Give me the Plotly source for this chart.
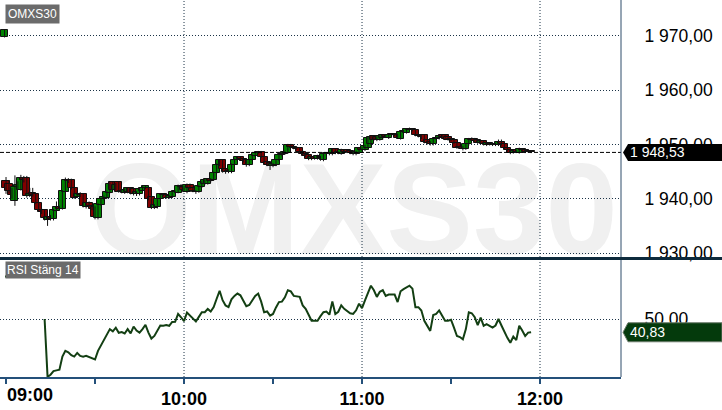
import pandas as pd
import plotly.graph_objects as go

# ---------------- data ----------------
# first entry = opening print (shown just before 09:00), then 1-minute bars 09:00 .. 11:57
opens = [1969.8,
    1943.2, 1942.7, 1941.5, 1939.6, 1942.2, 1941.7, 1943.9, 1943.8, 1940.5, 1941.1,
    1940.8, 1939.2, 1937.9, 1937.9, 1936.1, 1936.6, 1936.2, 1937.8, 1938.4, 1938.2,
    1941.3, 1943.5, 1943.5, 1941.9, 1940.4, 1940.9, 1940.8, 1938.4, 1939.3, 1938.7,
    1938.4, 1936.4, 1938.9, 1939.9, 1940.2, 1941.1, 1943.0, 1941.7, 1943.0, 1941.3,
    1941.1, 1941.2, 1941.9, 1941.8, 1940.8, 1940.8, 1941.4, 1942.0, 1942.0, 1940.4,
    1938.3, 1938.4, 1940.0, 1940.8, 1940.6, 1940.2, 1940.4, 1941.3, 1941.1, 1942.4,
    1942.1, 1941.2, 1942.6, 1942.0, 1941.4, 1941.3, 1942.2, 1942.7, 1942.8, 1943.6,
    1943.5, 1944.8, 1946.3, 1947.1, 1945.4, 1945.2, 1944.9, 1946.2, 1947.2, 1947.6,
    1947.3, 1947.2, 1946.2, 1947.1, 1947.9, 1948.4, 1948.6, 1947.7, 1946.8, 1946.5,
    1946.0, 1946.2, 1947.1, 1948.0, 1948.3, 1948.5, 1949.9, 1949.6, 1949.4, 1949.4,
    1948.7, 1948.2, 1948.0, 1947.3, 1947.6, 1947.4, 1947.7, 1947.1, 1948.2, 1948.4,
    1948.2, 1949.2, 1948.4, 1948.3, 1949.0, 1948.9, 1948.8, 1948.6, 1948.2, 1948.5,
    1949.3, 1949.0, 1949.4, 1950.0, 1951.5, 1951.4, 1950.9, 1951.1, 1951.7, 1951.2,
    1951.8, 1951.7, 1951.8, 1951.0, 1952.3, 1952.1, 1952.6, 1952.9, 1952.6, 1951.7,
    1951.6, 1951.7, 1950.8, 1950.4, 1950.0, 1951.0, 1951.1, 1951.7, 1951.7, 1951.4,
    1950.8, 1950.9, 1950.3, 1949.6, 1949.5, 1949.2, 1950.0, 1951.0, 1951.0, 1950.8,
    1950.3, 1950.6, 1949.9, 1950.3, 1950.1, 1949.9, 1949.9, 1950.4, 1950.0, 1949.4,
    1949.0, 1948.5, 1948.9, 1948.5, 1949.1, 1949.0, 1948.6, 1948.8]

highs = [1971.1,
    1944.0, 1943.4, 1942.0, 1944.3, 1943.2, 1944.4, 1944.2, 1944.2, 1942.0, 1942.0,
    1941.0, 1939.5, 1938.2, 1938.0, 1936.8, 1937.0, 1938.1, 1939.5, 1938.7, 1941.6,
    1943.9, 1943.8, 1943.7, 1942.0, 1941.2, 1941.2, 1941.0, 1939.5, 1939.5, 1938.9,
    1938.6, 1939.2, 1940.1, 1940.6, 1941.5, 1943.0, 1943.2, 1942.9, 1943.2, 1941.8,
    1941.9, 1942.1, 1942.1, 1942.0, 1941.4, 1942.0, 1942.3, 1942.5, 1942.2, 1940.5,
    1939.0, 1940.1, 1941.0, 1941.0, 1940.8, 1940.7, 1941.5, 1941.5, 1942.6, 1942.7,
    1942.3, 1942.8, 1942.8, 1942.2, 1941.6, 1942.6, 1943.2, 1943.6, 1943.8, 1943.8,
    1945.0, 1946.5, 1947.3, 1947.3, 1945.6, 1945.4, 1946.5, 1947.4, 1947.8, 1947.8,
    1947.5, 1947.4, 1947.3, 1948.2, 1948.6, 1948.8, 1948.8, 1947.9, 1947.0, 1946.7,
    1946.6, 1947.3, 1948.2, 1948.6, 1948.9, 1950.1, 1950.1, 1949.8, 1949.6, 1949.5,
    1948.9, 1948.4, 1948.2, 1947.8, 1947.8, 1948.1, 1947.9, 1948.4, 1948.6, 1948.6,
    1949.3, 1949.3, 1948.7, 1949.2, 1949.1, 1949.0, 1948.9, 1948.8, 1948.8, 1949.4,
    1949.5, 1949.9, 1951.4, 1951.6, 1951.7, 1951.5, 1951.7, 1951.9, 1951.9, 1952.0,
    1952.0, 1952.0, 1952.0, 1952.5, 1952.7, 1953.0, 1953.1, 1953.0, 1952.8, 1951.9,
    1951.8, 1951.8, 1951.0, 1950.6, 1951.2, 1951.4, 1951.8, 1951.9, 1951.8, 1951.6,
    1951.2, 1951.0, 1950.4, 1949.8, 1949.7, 1950.2, 1951.2, 1951.3, 1951.2, 1950.9,
    1950.8, 1950.7, 1950.4, 1950.4, 1950.3, 1950.3, 1950.9, 1950.9, 1950.1, 1949.5,
    1949.1, 1949.0, 1949.0, 1949.4, 1949.3, 1949.1, 1949.0, 1948.9]

lows = [1969.7,
    1940.9, 1941.0, 1940.0, 1938.7, 1941.8, 1941.5, 1943.0, 1940.2, 1940.3, 1940.4,
    1939.0, 1937.7, 1937.2, 1936.0, 1935.0, 1936.0, 1936.0, 1937.6, 1937.9, 1938.0,
    1941.2, 1942.9, 1941.7, 1940.0, 1940.2, 1940.3, 1938.4, 1938.2, 1938.5, 1937.9,
    1936.2, 1936.2, 1938.7, 1939.7, 1940.0, 1941.0, 1941.5, 1941.5, 1941.1, 1941.0,
    1940.9, 1941.0, 1940.8, 1940.6, 1940.5, 1940.6, 1941.2, 1941.8, 1939.7, 1938.1,
    1938.1, 1938.2, 1939.8, 1940.5, 1940.0, 1940.0, 1940.2, 1941.0, 1941.0, 1941.9,
    1941.4, 1941.0, 1941.8, 1941.2, 1940.9, 1941.1, 1942.0, 1942.5, 1942.6, 1943.0,
    1943.3, 1944.6, 1946.0, 1944.8, 1944.6, 1944.7, 1944.7, 1946.0, 1946.9, 1947.0,
    1946.7, 1945.9, 1946.0, 1946.9, 1947.7, 1948.2, 1947.5, 1946.3, 1946.0, 1945.3,
    1945.8, 1946.0, 1946.9, 1947.8, 1948.1, 1948.3, 1949.3, 1949.1, 1949.0, 1948.5,
    1948.0, 1947.7, 1947.1, 1947.1, 1947.2, 1947.2, 1947.0, 1946.9, 1948.0, 1948.0,
    1948.0, 1948.2, 1948.2, 1948.1, 1948.5, 1948.4, 1948.2, 1948.0, 1948.0, 1948.3,
    1948.8, 1948.8, 1949.3, 1949.8, 1950.7, 1950.6, 1950.7, 1950.9, 1951.2, 1951.0,
    1951.5, 1951.5, 1951.0, 1950.9, 1952.1, 1952.0, 1952.5, 1952.4, 1951.5, 1951.3,
    1951.0, 1950.2, 1950.0, 1949.8, 1949.8, 1950.8, 1950.9, 1951.1, 1950.8, 1950.7,
    1950.6, 1950.1, 1949.2, 1949.2, 1948.9, 1949.0, 1949.8, 1950.7, 1950.5, 1950.1,
    1950.1, 1949.8, 1949.7, 1949.8, 1949.7, 1949.7, 1949.7, 1949.8, 1949.2, 1948.7,
    1948.2, 1948.3, 1948.4, 1948.3, 1948.7, 1948.4, 1948.5, 1948.4]

closes = [1971.0,
    1942.0, 1941.5, 1940.6, 1942.2, 1942.6, 1943.9, 1943.5, 1940.5, 1940.9, 1940.6,
    1939.3, 1937.9, 1937.6, 1936.4, 1936.6, 1936.3, 1937.9, 1938.4, 1938.2, 1941.4,
    1943.5, 1943.2, 1941.9, 1940.2, 1940.9, 1940.6, 1938.7, 1939.3, 1938.7, 1938.1,
    1936.7, 1939.0, 1939.9, 1940.3, 1941.3, 1942.8, 1941.7, 1942.6, 1941.3, 1941.5,
    1941.7, 1941.9, 1941.0, 1940.8, 1941.2, 1941.8, 1942.0, 1942.3, 1939.9, 1938.3,
    1938.8, 1939.9, 1940.8, 1940.7, 1940.2, 1940.5, 1941.3, 1941.2, 1942.4, 1942.1,
    1941.6, 1942.6, 1942.0, 1941.4, 1941.2, 1942.4, 1943.0, 1943.4, 1943.6, 1943.3,
    1944.8, 1946.3, 1947.1, 1945.4, 1945.0, 1944.9, 1946.3, 1947.2, 1947.6, 1947.3,
    1946.9, 1946.2, 1947.1, 1948.0, 1948.4, 1948.6, 1947.7, 1946.5, 1946.2, 1946.1,
    1946.4, 1947.1, 1948.0, 1948.3, 1948.7, 1949.9, 1949.5, 1949.3, 1949.2, 1948.7,
    1948.2, 1947.9, 1947.3, 1947.6, 1947.4, 1947.9, 1947.5, 1948.2, 1948.4, 1948.2,
    1949.1, 1948.4, 1948.5, 1949.0, 1948.7, 1948.6, 1948.4, 1948.2, 1948.6, 1949.3,
    1949.0, 1949.7, 1951.2, 1951.4, 1950.9, 1950.8, 1951.5, 1951.7, 1951.4, 1951.8,
    1951.7, 1951.8, 1951.2, 1952.3, 1952.5, 1952.8, 1952.9, 1952.6, 1951.7, 1951.6,
    1951.3, 1950.4, 1950.3, 1950.0, 1951.0, 1951.2, 1951.6, 1951.3, 1951.0, 1950.9,
    1951.0, 1950.3, 1949.4, 1949.4, 1949.2, 1950.0, 1951.0, 1950.9, 1950.7, 1950.3,
    1950.6, 1950.0, 1950.2, 1950.0, 1949.9, 1950.1, 1950.4, 1950.0, 1949.4, 1948.9,
    1948.5, 1948.8, 1948.6, 1949.2, 1948.9, 1948.6, 1948.8, 1948.53]

# RSI (close, 14) per minute from 09:13 to 11:57
rsi_values = [
    50, 10, 11.5, 14, 14.5, 15, 24, 28, 27, 25,
    24, 26.5, 24.5, 24, 24.5, 23.5, 23, 22, 28, 32,
    35, 40, 43, 41.5, 44, 40.5, 41, 40, 43, 40,
    44.8, 42, 40.6, 43, 46, 40.6, 36.5, 38.3, 42, 45.5,
    45.3, 45.8, 45.3, 48, 48.1, 53.5, 51.2, 48.5, 54.5, 52.3,
    50, 48.3, 51.5, 54.7, 54.7, 57, 55.2, 58.2, 64, 69.5,
    63, 59.4, 58.2, 63.6, 66, 67.6, 66.4, 63, 58.9, 59.7,
    63, 66, 67.6, 62, 54.7, 55.2, 52.3, 53.5, 58, 61.7,
    62, 65, 69.9, 69.1, 66, 65.5, 65.3, 59.4, 57, 53,
    48.8, 48.8, 48.8, 52, 54.7, 55.2, 53, 62.2, 53.5, 55,
    59.4, 57, 55.5, 54, 53.5, 56, 60.6, 57.5, 62.9, 68,
    73, 69.9, 65.3, 68.8, 69.9, 66, 66.9, 66.9, 66.9, 61.7,
    69.2, 70.7, 72, 73, 71, 58.2, 58.2, 55.9, 48.8, 45,
    41.8, 52.8, 53.5, 55.9, 52.5, 48.8, 48.8, 49.5, 44, 38.2,
    37.5, 35.9, 43, 54.7, 54, 51.2, 45.8, 51, 45.3, 46.5,
    45.3, 44.1, 45.5, 50, 45.5, 40.6, 37, 33.6, 37.8, 35.4,
    45.3, 42, 38.2, 40.6, 40.83]

day = "2024-01-02"
opening_print_time = day + " 08:59:30"
first_bar_time = day + " 09:00"
first_rsi_time = day + " 09:13"
x_window = [day + " 08:57:58", day + " 12:27:18"]
time_ticks = ["09:00", "09:30", "10:00", "10:30", "11:00", "11:30", "12:00"]
time_tick_labels = ["", "", "10:00", "", "11:00", "", "12:00"]
grid_hours = ["10:00", "11:00", "12:00"]
price_ticks = [1930, 1940, 1950, 1960, 1970]
price_range = [1929.27, 1976.6]
rsi_ticks = [50]
rsi_range = [9.9, 90.8]
instrument = "OMXS30"
rsi_name = "RSI Stäng 14"

# ---------------- build ----------------
candle_times = [pd.Timestamp(opening_print_time)] + list(
    pd.date_range(first_bar_time, periods=len(closes) - 1, freq="min"))
rsi_times = list(pd.date_range(first_rsi_time, periods=len(rsi_values), freq="min"))

GREEN, RED = "#008200", "#820000"
body_base = [min(o, c) for o, c in zip(opens, closes)]
body_h = [max(abs(c - o), 0.15) for o, c in zip(opens, closes)]
body_col = [GREEN if c >= o else RED for o, c in zip(opens, closes)]

wx, wy = [], []
for t, h, l in zip(candle_times, highs, lows):
    wx += [t, t, None]
    wy += [l, h, None]

fig = go.Figure()
fig.add_trace(go.Scatter(x=wx, y=wy, mode="lines", line=dict(color="#111111", width=1),
                         xaxis="x", yaxis="y", hoverinfo="skip", showlegend=False))
fig.add_trace(go.Bar(x=candle_times, y=body_h, base=body_base, width=144000,
                     marker=dict(color=body_col, line=dict(color="#101010", width=1)),
                     xaxis="x", yaxis="y", showlegend=False))
fig.add_trace(go.Scatter(x=rsi_times, y=rsi_values, mode="lines",
                         line=dict(color="#133f13", width=2),
                         xaxis="x", yaxis="y2", showlegend=False))

FONT = "Liberation Sans"
GRID = "#1b3347"
AX = "#24507a"
H_PLOT = 410 - 33
main_dom = [(H_PLOT - 257) / H_PLOT, 1]
rsi_dom = [0, (H_PLOT - 260) / H_PLOT]
sep_y = (H_PLOT - 258.5) / H_PLOT


def day_t(hhmm):
    return pd.Timestamp(day + " " + hhmm)


def fmt(v):
    return f"{v:,.2f}".replace(",", " ").replace(".", ",")


yax_common = dict(side="right", ticks="outside", ticklen=19, tickcolor="rgba(0,0,0,0)",
                  showgrid=True, gridcolor=GRID, griddash="1px,2px", gridwidth=1,
                  zeroline=False, showline=False, anchor="x",
                  tickfont=dict(family=FONT, size=17.5, color="#000000"),
                  tickformat=",.2f")

fig.update_layout(
    width=722, height=410,
    margin=dict(l=0, r=101, t=0, b=33),
    paper_bgcolor="white", plot_bgcolor="rgba(0,0,0,0)",
    separators=", ",
    barmode="overlay", bargap=0,
    showlegend=False,
    xaxis=dict(type="date", range=[pd.Timestamp(x_window[0]), pd.Timestamp(x_window[1])],
               anchor="y2", showgrid=False, zeroline=False,
               tickvals=[day_t(t) for t in time_ticks], ticktext=time_tick_labels,
               ticks="outside", ticklen=5, tickcolor=AX, tickwidth=1.5,
               showline=True, linecolor=AX, linewidth=1.5,
               tickfont=dict(family=FONT, size=18, color="#000000", weight="bold")),
    yaxis=dict(domain=main_dom, range=price_range, tickvals=price_ticks, **yax_common),
    yaxis2=dict(domain=rsi_dom, range=rsi_range, tickvals=rsi_ticks, **yax_common),
)

shapes = []
# watermark
shapes.append(dict(type="rect", xref="x domain", yref="y domain", x0=0.15, x1=0.99, y0=0.03, y1=0.434,
                   line=dict(width=0), fillcolor="rgba(0,0,0,0)", layer="below",
                   label=dict(text=instrument, textposition="middle center",
                              font=dict(family="Liberation Sans", size=130, color="#f0f0f0",
                                        weight="bold"))))
# vertical hour grid
for hh in grid_hours:
    for yr in ("y domain", "y2 domain"):
        shapes.append(dict(type="line", xref="x", yref=yr, x0=day_t(hh), x1=day_t(hh), y0=0, y1=1,
                           line=dict(color=GRID, width=1, dash="1px,2px"), layer="below"))
last_close = closes[-1]
last_rsi = rsi_values[-1]
# last price dashed line
shapes.append(dict(type="line", xref="paper", yref="y", x0=0, x1=1, y0=last_close, y1=last_close,
                   line=dict(color="#000000", width=1, dash="4px,2px"), layer="above"))
# right border & pane separator
shapes.append(dict(type="line", xref="paper", yref="paper", x0=1, x1=1, y0=0, y1=1,
                   line=dict(color="#2f4d6b", width=1)))
shapes.append(dict(type="line", xref="paper", yref="paper", x0=0, x1=722 / 621, y0=sep_y, y1=sep_y,
                   line=dict(color="#0d2a3c", width=3)))
# value tags
shapes.append(dict(type="path", xref="paper", yref="y", xsizemode="pixel", ysizemode="pixel",
                   xanchor=1, yanchor=last_close,
                   path="M 2,0 L 7,-8.5 L 101,-8.5 L 101,8.5 L 7,8.5 Z",
                   fillcolor="#000000", line=dict(width=0), layer="above"))
shapes.append(dict(type="path", xref="paper", yref="y2", xsizemode="pixel", ysizemode="pixel",
                   xanchor=1, yanchor=last_rsi,
                   path="M 2,0 L 7,-9.5 L 101,-9.5 L 101,9.5 L 7,9.5 Z",
                   fillcolor="#043a0c", line=dict(color="#6a7a6a", width=1), layer="above"))
# green underline of RSI label
shapes.append(dict(type="rect", xref="paper", yref="paper", xsizemode="pixel", ysizemode="pixel",
                   xanchor=0, x0=5, x1=79, yanchor=rsi_dom[1], y0=-15.5, y1=-17.5,
                   fillcolor="#0b3d0b", line=dict(width=0)))
fig.update_layout(shapes=shapes)

ann = []
ann.append(dict(x=1, xref="paper", y=last_close, yref="y", xanchor="left", yanchor="middle",
                xshift=7, text=fmt(last_close), showarrow=False,
                font=dict(family=FONT, size=14, color="white")))
ann.append(dict(x=1, xref="paper", y=last_rsi, yref="y2", xanchor="left", yanchor="middle",
                xshift=7, text=fmt(last_rsi), showarrow=False,
                font=dict(family=FONT, size=14, color="white")))
ann.append(dict(x=0, xref="paper", y=1, yref="paper", xanchor="left", yanchor="top",
                xshift=5, yshift=-4, text=instrument, showarrow=False, bgcolor="#6b6b6b",
                borderpad=2, font=dict(family=FONT, size=12, color="white")))
ann.append(dict(x=0, xref="paper", y=rsi_dom[1], yref="paper", xanchor="left", yanchor="top",
                xshift=5, yshift=-1, text=rsi_name, showarrow=False, bgcolor="#6b6b6b",
                borderpad=1, font=dict(family=FONT, size=12, color="white")))
ann.append(dict(x=day_t(time_ticks[0]), xref="x", y=0, yref="paper", xanchor="left", yanchor="top",
                xshift=-1, yshift=-6, text=time_ticks[0], showarrow=False,
                font=dict(family=FONT, size=18, color="#000000", weight="bold")))
fig.update_layout(annotations=ann)

fig.write_html("out.html", config={"displayModeBar": False},
               post_script="document.body.style.margin='0px';")
